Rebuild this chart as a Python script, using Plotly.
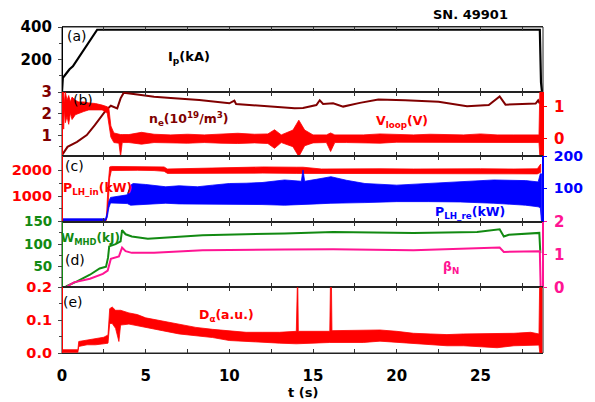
import plotly.graph_objects as go

# ---------------- data ----------------
ip_t = [0.0, 0.05, 0.15, 0.45, 0.65, 2.1, 28.55, 28.62, 28.68]
ip_v = [0, 88, 100, 140, 158, 383, 383, 60, 0]

ne_t = [0.0, 0.33, 0.9, 1.48, 1.96, 2.34, 2.63, 2.92, 3.3, 3.5, 3.69, 4.5, 5.5, 6.5, 8.2, 10.0,
        10.3, 10.4, 12.0, 13.9, 14.4, 15.2, 15.4, 15.6, 16.2, 16.8, 17.8, 18.9, 20.5, 22.5, 24.2,
        25.5, 26.15, 26.5, 27.5, 28.3, 28.45, 28.55]
ne_v = [0.1, 0.48, 0.71, 1.02, 1.48, 1.86, 2.17, 2.37, 2.25, 2.71, 2.97, 2.88, 2.78, 2.72, 2.63, 2.48,
        2.6, 2.45, 2.36, 2.25, 2.27, 2.4, 2.62, 2.45, 2.48, 2.33, 2.5, 2.66, 2.62, 2.55, 2.35,
        2.4, 2.8, 2.42, 2.45, 2.47, 2.62, 2.47]

vl_t = [0.0, 0.05, 0.1, 0.15, 0.2, 0.3, 0.4, 0.5, 0.6, 0.8, 1.0, 1.3, 1.6, 2.0, 2.4, 2.7, 2.8,
        2.92, 3.1, 3.4, 3.5, 3.6, 4.0, 4.75, 5.5, 6.5, 7.5, 8.5, 9.5, 10.5, 11.5, 12.3, 12.7, 13.1,
        13.8, 14.15, 14.5, 15.0, 15.8, 16.05, 16.3, 17.0, 18.0, 19.0, 20.0, 21.0, 22.0, 23.0, 24.0,
        25.0, 26.0, 27.0, 28.0, 28.5, 28.55, 28.68]
vl_lo = [0.3, 0.9, 0.3, 0.95, 0.5, 0.7, 0.45, 0.8, 0.6, 0.75, 0.8, 0.85, 0.9, 0.9, 0.9, 0.8, 0.45,
         0.05, -0.12, -0.14, -0.55, -0.12, -0.12, -0.17, -0.12, -0.12, -0.14, -0.12, -0.14, -0.15,
         -0.13, -0.15, -0.3, -0.12, -0.25, -0.56, -0.22, -0.13, -0.12, -0.4, -0.12, -0.12, -0.12,
         -0.14, -0.11, -0.12, -0.12, -0.12, -0.11, -0.13, -0.12, -0.12, -0.12, -0.12, -0.54, -0.54]
vl_hi = [1.46, 1.2, 1.46, 1.1, 1.46, 1.2, 1.35, 1.15, 1.3, 1.2, 1.15, 1.15, 1.12, 1.1, 1.05, 1.0,
         0.95, 0.4, 0.18, 0.13, 0.13, 0.13, 0.13, 0.2, 0.14, 0.12, 0.14, 0.12, 0.15, 0.17, 0.14,
         0.15, 0.28, 0.12, 0.27, 0.58, 0.27, 0.12, 0.12, 0.18, 0.12, 0.12, 0.12, 0.15, 0.13, 0.12,
         0.14, 0.12, 0.12, 0.15, 0.12, 0.12, 0.12, 0.12, 1.46, 1.46]

pin_t = [0, 2.65, 2.75, 2.85, 2.95, 3.5, 4.5, 5.5, 6.1, 6.3, 8, 10, 12, 14, 14.4, 15.5, 17, 19, 21,
         23, 25, 27, 28.4, 28.6]
pin_lo = [50, 50, 600, 1700, 1990, 2000, 2000, 1990, 1960, 1880, 1880, 1890, 1890, 1880, 1880, 1870,
          1870, 1860, 1860, 1870, 1870, 1860, 1860, 1920]
pin_hi = [90, 90, 1400, 2130, 2150, 2150, 2150, 2150, 2130, 2050, 2080, 2120, 2130, 2120, 2120, 2050,
          2060, 2060, 2050, 2060, 2060, 2050, 2060, 2240]

pre_t = [0, 2.6, 2.7, 2.8, 2.9, 3.3, 3.9, 4.1, 4.25, 5.0, 6.2, 7.0, 8.1, 9.0, 10.0, 11.0, 11.95, 13.3,
         14.3, 14.4, 14.5, 15.2, 16.07, 17.0, 18.1, 20.0, 21.9, 23.8, 25.8, 27.7, 28.45, 28.58, 28.65]
pre_lo = [0, 0, 10, 40, 55, 53, 53, 48, 48, 50, 54, 52, 52, 51, 50, 50, 50, 48, 50, 50, 50, 52, 54,
          56, 56, 59, 59, 58, 54, 48, 43, 40, -3]
pre_hi = [6, 6, 25, 60, 72, 75, 80, 110, 115, 112, 105, 108, 105, 110, 115, 116, 118, 126, 122, 157,
          122, 128, 136, 125, 115, 110, 115, 120, 126, 124, 120, 145, 145]

w_t = [0.23, 0.9, 1.67, 2.25, 2.63, 2.75, 2.82, 3.2, 3.5, 3.59, 3.8, 4.17, 5.13, 6.47, 8.4, 13.3,
       16.2, 21.0, 24.8, 26.15, 26.4, 26.7, 28.45, 28.52, 28.58]
w_v = [6, 17, 32, 46, 50, 70, 95, 100, 106, 131, 122, 117, 112, 115, 120, 124, 127, 125, 127, 133,
       117, 121, 125, 125, 80]

b_t = [0.23, 0.71, 1.67, 2.44, 2.73, 2.92, 3.4, 3.59, 3.8, 4.17, 5.5, 8.4, 13.3, 16.2, 21.0, 26.15,
       26.4, 28.45, 28.55, 28.6]
b_v = [0.0, 0.15, 0.26, 0.41, 0.51, 0.87, 0.94, 1.21, 1.1, 1.05, 1.05, 1.13, 1.15, 1.16, 1.13, 1.21,
       1.08, 1.11, 1.1, 0.0]

da_t = [0, 0.95, 1.0, 1.5, 2.0, 2.5, 2.75, 2.85, 3.0, 3.2, 3.4, 3.5, 4.0, 4.5, 5, 6, 7, 8, 9, 10, 11,
        12, 13, 14.0, 14.04, 14.08, 14.12, 15, 16.0, 16.05, 16.09, 16.13, 17, 18, 19, 20, 21, 22,
        23, 24, 25, 26, 27, 28, 28.5, 28.55, 28.68]
da_lo = [0.002, 0.002, 0.02, 0.025, 0.025, 0.028, 0.03, 0.09, 0.09, 0.075, 0.035, 0.085, 0.088, 0.083,
         0.078, 0.068, 0.058, 0.052, 0.047, 0.038, 0.037, 0.033, 0.03, 0.028, 0.03, 0.03, 0.028,
         0.03, 0.032, 0.034, 0.034, 0.032, 0.032, 0.032, 0.036, 0.032, 0.03, 0.025, 0.022, 0.022, 0.02,
         0.016, 0.022, 0.024, 0.024, 0.0, 0.0]
da_hi = [0.01, 0.01, 0.035, 0.04, 0.045, 0.048, 0.055, 0.135, 0.14, 0.13, 0.13, 0.13, 0.122, 0.117,
         0.107, 0.097, 0.088, 0.078, 0.072, 0.068, 0.063, 0.063, 0.063, 0.066, 0.25, 0.25, 0.066,
         0.066, 0.066, 0.25, 0.25, 0.068, 0.068, 0.068, 0.07, 0.066, 0.06, 0.058, 0.056, 0.058, 0.058,
         0.058, 0.06, 0.063, 0.058, 0.25, 0.25]

x_ticks = [0, 5, 10, 15, 20, 25]

# ---------------- styling ----------------
BLACK = "#000000"
MAROON = "#800000"
RED = "#FF0000"
BLUE = "#0000FF"
GREEN = "#128A12"
PINK = "#FF1493"
FONT = "DejaVu Sans"

W, H = 595, 402
ML, MR, MT, MB = 59, 37, 27, 49
PW, PH = W - ML - MR, H - MT - MB


def P(px, py):
    return (px - ML) / PW, (H - MB - py) / PH


def yd(top_px, bot_px):
    return [(H - MB - bot_px) / PH, (H - MB - top_px) / PH]


DOM = {
    "a": yd(27, 92),
    "b": yd(92, 156),
    "c": yd(156, 221.7),
    "d": yd(221.7, 287.3),
    "e": yd(287.3, 353),
}


def band(t, lo, hi, color, xa, ya):
    return go.Scatter(x=list(t) + list(t)[::-1], y=list(hi) + list(lo)[::-1],
                      fill="toself", fillcolor=color, mode="lines",
                      line=dict(color=color, width=0.8), xaxis=xa, yaxis=ya,
                      hoverinfo="skip", showlegend=False)


def line(t, v, color, xa, ya, width=2):
    return go.Scatter(x=t, y=v, mode="lines", line=dict(color=color, width=width),
                      xaxis=xa, yaxis=ya, hoverinfo="skip", showlegend=False)


fig = go.Figure()
fig.add_trace(line(ip_t, ip_v, BLACK, "x", "y", 2.2))
fig.add_trace(band(vl_t, vl_lo, vl_hi, RED, "x2", "y6"))
fig.add_trace(line(ne_t, ne_v, MAROON, "x2", "y2", 2))
fig.add_trace(band(pin_t, pin_lo, pin_hi, RED, "x3", "y3"))
fig.add_trace(band(pre_t, pre_lo, pre_hi, BLUE, "x3", "y7"))
fig.add_trace(line(w_t, w_v, GREEN, "x4", "y4", 2))
fig.add_trace(line(b_t, b_v, PINK, "x4", "y8", 2))
fig.add_trace(band(da_t, da_lo, da_hi, RED, "x5", "y5"))


def xaxis(anchor, labels=False):
    d = dict(domain=[0, 1], anchor=anchor, range=[0, 28.74], showgrid=False, zeroline=False,
             showline=True, linecolor="#222222", linewidth=1, mirror="ticks",
             ticks="inside", ticklen=4, tickcolor="#333333", tickvals=x_ticks,
             minor=dict(tickvals=[2.5, 7.5, 12.5, 17.5, 22.5, 27.5], ticks="inside",
                        ticklen=4, tickcolor="#333333"),
             showticklabels=labels,
             tickfont=dict(family=FONT, size=15, color=BLACK, weight="bold"))
    if anchor != "y5":
        d["matches"] = "x5"
    if labels:
        d["ticklabelstandoff"] = 9
    return d


def yleft(dom, rng, tv, minor, color, size=14.5, mirror=False):
    return dict(domain=dom, anchor="free", position=0, range=rng, showgrid=False, zeroline=False,
                showline=True, linecolor=color, linewidth=1.2, mirror=mirror,
                ticks="outside", ticklen=4, tickcolor="#444444", tickvals=tv,
                minor=dict(tickvals=minor, ticks="outside", ticklen=3, tickcolor="#444444"),
                tickfont=dict(family=FONT, size=size, color=color, weight="bold"),
                ticklabelstandoff=3)


def yright(over, rng, tv, color, size=14.5):
    return dict(overlaying=over, side="right", anchor="free", position=1, range=rng,
                showgrid=False, zeroline=False, showline=True, linecolor=color, linewidth=2,
                ticks="outside", ticklen=3, tickcolor=color, tickvals=tv,
                tickfont=dict(family=FONT, size=size, color=color, weight="bold"),
                ticklabelstandoff=4)


ya = yleft(DOM["a"], [0, 400], [200, 400], [100, 300], BLACK, 15, mirror=True)
yb = yleft(DOM["b"], [0.06, 3.0], [1, 2, 3], [0.5, 1.5, 2.5], MAROON, 15)
yb["linecolor"] = RED
yc = yleft(DOM["c"], [0, 2556], [1000, 2000], [500, 1500], RED, 14.5)
ydd = yleft(DOM["d"], [4, 150], [50, 100, 150], [25, 75, 125], GREEN, 13.5)
ye = yleft(DOM["e"], [0, 0.2], [0, 0.1, 0.2], [0.05, 0.15], RED, 14.5)
ye["tickformat"] = ".1f"

fig.update_layout(
    width=W, height=H, margin=dict(l=ML, r=MR, t=MT, b=MB),
    paper_bgcolor="white", plot_bgcolor="white", showlegend=False,
    xaxis=xaxis("y"), xaxis2=xaxis("y2"), xaxis3=xaxis("y3"), xaxis4=xaxis("y4"),
    xaxis5=xaxis("y5", labels=True),
    yaxis=ya, yaxis2=yb, yaxis3=yc, yaxis4=ydd, yaxis5=ye,
    yaxis6=yright("y2", [-0.54, 1.46], [0, 1], RED, 15),
    yaxis7=yright("y3", [-3, 200], [100, 200], BLUE, 14),
    yaxis8=yright("y4", [0, 2], [0, 1, 2], PINK, 15),
)

# panel frames (black), drawn below the coloured axis lines
shapes = []
for k in "abcde":
    y0, y1 = DOM[k]
    shapes.append(dict(type="rect", xref="paper", yref="paper", x0=0, x1=1, y0=y0, y1=y1,
                       line=dict(color="#222222", width=1), layer="below"))
fig.update_layout(shapes=shapes)


def ann(text, px, py, color, size=12.5, bold=True):
    x, y = P(px, py)
    f = dict(family=FONT, size=size, color=color)
    if bold:
        f["weight"] = "bold"
    fig.add_annotation(text=text, x=x, y=y, xref="paper", yref="paper", showarrow=False,
                       xanchor="center", yanchor="middle", font=f)


ann("SN. 49901", 482.5, 15, BLACK, 13)
ann("(a)", 75, 36, BLACK, 14, bold=False)
ann("I<sub>p</sub>(kA)", 191, 57, BLACK, 13)
ann("(b)", 81, 100, BLACK, 14, bold=False)
ann("n<sub>e</sub>(10<sup>19</sup>/m<sup>3</sup>)", 191, 119, MAROON, 12.5)
ann("V<sub>loop</sub>(V)", 411.5, 121, RED, 12.5)
ann("(c)", 72, 166, BLACK, 14, bold=False)
ann("P<sub>LH_in</sub>(kW)", 95.5, 188, RED, 12.5)
ann("P<sub>LH_re</sub>(kW)", 482, 212, BLUE, 12.5)
ann("W<sub>MHD</sub>(kJ)", 89, 239, GREEN, 12)
ann("(d)", 72, 260, BLACK, 14, bold=False)
ann("β<sub>N</sub>", 463, 267, PINK, 12.5)
ann("(e)", 70, 302, BLACK, 14, bold=False)
ann("D<sub>α</sub>(a.u.)", 230, 315, RED, 12.5)
ann("t (s)", 309, 392, BLACK, 13)

fig.write_html("out.html")
